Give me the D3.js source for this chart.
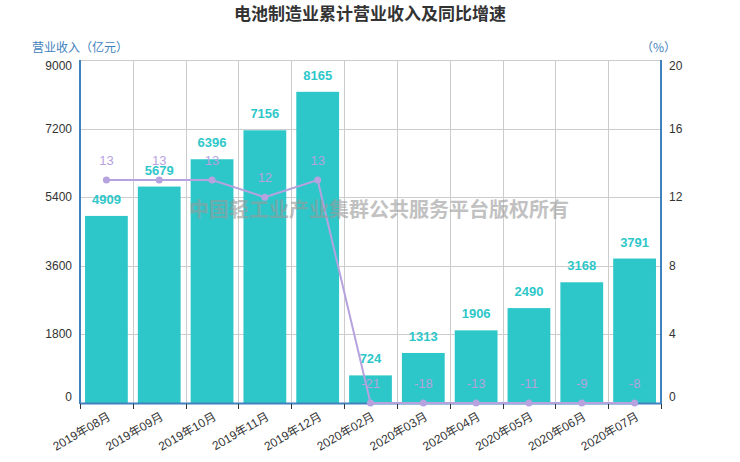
<!DOCTYPE html>
<html><head><meta charset="utf-8">
<script src="https://cdn.jsdelivr.net/npm/d3@7"></script>
<style>body{margin:0;background:#fff;} svg{display:block;font-family:"Liberation Sans","Noto Sans CJK SC",sans-serif;}</style>
</head><body><svg id="c" width="740" height="462"></svg>
<script>
const categories = ["2019年08月","2019年09月","2019年10月","2019年11月","2019年12月","2020年02月","2020年03月","2020年04月","2020年05月","2020年06月","2020年07月"];
const revenue = [4909,5679,6396,7156,8165,724,1313,1906,2490,3168,3791];
const growth = [13,13,13,12,13,-21,-18,-13,-11,-9,-8];
const leftTicks = [0,1800,3600,5400,7200,9000];
const rightTicks = [0,4,8,12,16,20];

const svg = d3.select("#c");
const L=80, R=661, T=60, B=403;
const x = d3.scaleBand().domain(categories).range([L,R]).paddingInner(0.19).paddingOuter(0.095);
const xb = d3.scaleBand().domain(categories).range([L,R]);
const y = d3.scaleLinear().domain([0,9000]).range([B,T]);
const yr = d3.scaleLinear().domain([0,20]).range([B,T]).clamp(true);
const teal="#2ec7c9", lav="#b6a2de", blue="#3f82bd";

// title
svg.append("text").attr("x",370).attr("y",20).attr("text-anchor","middle")
  .attr("font-size",17).attr("font-weight","bold").attr("fill","#333")
  .attr("font-family","'Noto Sans CJK SC',sans-serif").text("电池制造业累计营业收入及同比增速");
svg.append("text").attr("x",32).attr("y",52).attr("font-size",12).attr("fill",blue)
  .attr("font-family","'Noto Sans CJK SC',sans-serif").text("营业收入（亿元）");
svg.append("text").attr("x",676).attr("y",52).attr("text-anchor","end").attr("font-size",12).attr("fill",blue)
  .attr("font-family","'Noto Sans CJK SC',sans-serif").text("（%）");

// grid
const g = svg.append("g");
g.selectAll(".hg").data(leftTicks).join("line").attr("x1",L).attr("x2",R)
  .attr("y1",d=>Math.round(y(d))+0.5).attr("y2",d=>Math.round(y(d))+0.5).attr("stroke","#ccc");
const bounds = categories.map(c=>xb(c)).concat([R]);
g.selectAll(".vg").data(bounds).join("line").attr("y1",T).attr("y2",B)
  .attr("x1",d=>Math.round(d)+0.5).attr("x2",d=>Math.round(d)+0.5).attr("stroke","#ccc");

// bars
svg.selectAll(".bar").data(revenue).join("rect")
  .attr("x",(d,i)=>x(categories[i])).attr("width",x.bandwidth())
  .attr("y",d=>y(d)).attr("height",d=>B-y(d)).attr("fill",teal);
svg.selectAll(".bl").data(revenue).join("text")
  .attr("x",(d,i)=>x(categories[i])+x.bandwidth()/2).attr("y",d=>y(d)-12)
  .attr("text-anchor","middle").attr("font-size",13).attr("font-weight","bold").attr("fill",teal).text(d=>d);

// axes lines
svg.append("line").attr("x1",L).attr("x2",R+1).attr("y1",B+0.5).attr("y2",B+0.5).attr("stroke",blue).attr("stroke-width",2);
svg.append("line").attr("x1",L).attr("x2",L).attr("y1",T).attr("y2",B+1).attr("stroke",blue).attr("stroke-width",2);
svg.append("line").attr("x1",R).attr("x2",R).attr("y1",T).attr("y2",B+1).attr("stroke",blue).attr("stroke-width",2);
svg.selectAll(".xt").data(bounds).join("line").attr("x1",d=>Math.round(d)+0.5).attr("x2",d=>Math.round(d)+0.5)
  .attr("y1",B+1).attr("y2",B+6).attr("stroke","#333");

// y labels
const shift = (d,max)=> d===0? -6 : (d===max? 6 : 0);
svg.selectAll(".yl").data(leftTicks).join("text").attr("x",72).attr("y",d=>y(d)+shift(d,9000)+4)
  .attr("text-anchor","end").attr("font-size",12).attr("fill","#333").text(d=>d);
svg.selectAll(".yrl").data(rightTicks).join("text").attr("x",669).attr("y",d=>yr(d)+shift(d,20)+4)
  .attr("text-anchor","start").attr("font-size",12).attr("fill","#333").text(d=>d);

// x labels
svg.selectAll(".xl").data(categories).join("text")
  .attr("transform",c=>`translate(${xb(c)+xb.bandwidth()/2+5},${B+16}) rotate(-30)`)
  .attr("text-anchor","end").attr("font-size",12).attr("fill","#333").text(d=>d);

// line
const line = d3.line().x((d,i)=>xb(categories[i])+xb.bandwidth()/2).y(d=>yr(d));
svg.append("path").datum(growth).attr("d",line).attr("fill","none").attr("stroke",lav).attr("stroke-width",2);
svg.selectAll(".pt").data(growth).join("circle").attr("cx",(d,i)=>xb(categories[i])+xb.bandwidth()/2)
  .attr("cy",d=>yr(d)).attr("r",3.5).attr("fill",lav);
svg.selectAll(".pl").data(growth).join("text").attr("x",(d,i)=>xb(categories[i])+xb.bandwidth()/2)
  .attr("y",d=>yr(d)-15).attr("text-anchor","middle").attr("font-size",13).attr("fill",lav).text(d=>d);

// watermark
svg.append("text").attr("x",379).attr("y",217).attr("text-anchor","middle").attr("font-size",20)
  .attr("font-weight","bold").attr("fill","#999").attr("opacity",0.6)
  .attr("font-family","'Noto Sans CJK SC',sans-serif").text("中国轻工业产业集群公共服务平台版权所有");
</script></body></html>
